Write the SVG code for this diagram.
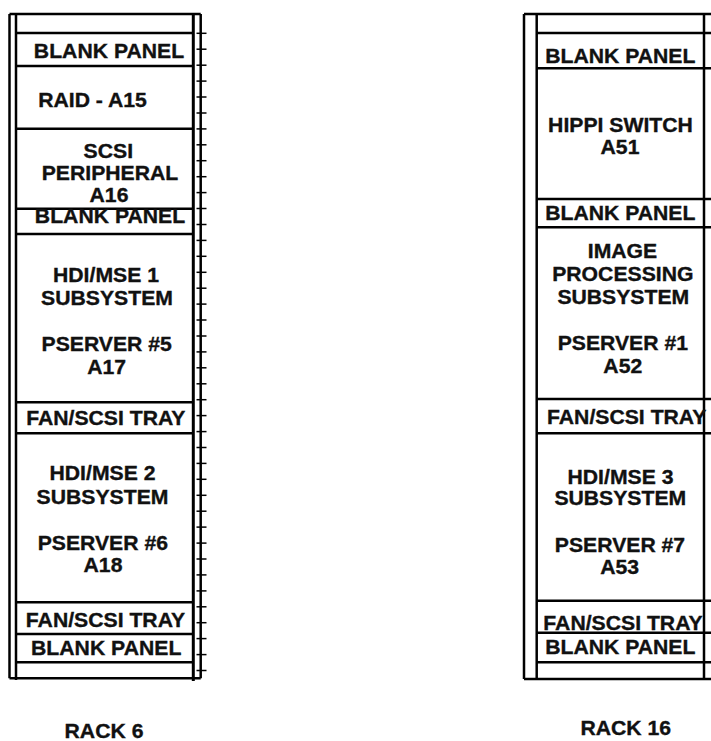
<svg xmlns="http://www.w3.org/2000/svg" width="711" height="741" viewBox="0 0 711 741">
<style>
  .frame{fill:none;stroke:#000;stroke-width:2.5}
  .rail{stroke:#000;stroke-width:3}
  .div{stroke:#000;stroke-width:2.5}
  .tick{stroke:#000;stroke-width:1.5}
  text{font-family:"Liberation Sans",Arial,sans-serif;font-weight:bold;font-size:20px;fill:#111;stroke:#111;stroke-width:0.35;text-anchor:middle}
</style>
<rect width="711" height="741" fill="#fff"/>
<g id="rack6-frame">
  <line class="frame" x1="9.5" y1="14" x2="200.7" y2="14"/>
  <line class="frame" x1="9.5" y1="678.3" x2="200.7" y2="678.3"/>
  <line class="frame" x1="9.5" y1="14" x2="9.5" y2="678.3"/>
  <line class="frame" x1="16" y1="14" x2="16" y2="680"/>
  <line class="rail" x1="193.3" y1="14" x2="193.3" y2="681"/>
  <line class="frame" x1="200.7" y1="14" x2="200.7" y2="678.3"/>
</g>
<g id="rack6-ticks">
  <line class="tick" x1="196.5" y1="33.3" x2="206.5" y2="33.3"/><line class="tick" x1="196.5" y1="49.2" x2="206.5" y2="49.2"/><line class="tick" x1="196.5" y1="65.2" x2="206.5" y2="65.2"/><line class="tick" x1="196.5" y1="81.1" x2="206.5" y2="81.1"/><line class="tick" x1="196.5" y1="97.0" x2="206.5" y2="97.0"/><line class="tick" x1="196.5" y1="113.0" x2="206.5" y2="113.0"/><line class="tick" x1="196.5" y1="128.9" x2="206.5" y2="128.9"/><line class="tick" x1="196.5" y1="144.8" x2="206.5" y2="144.8"/><line class="tick" x1="196.5" y1="160.7" x2="206.5" y2="160.7"/><line class="tick" x1="196.5" y1="176.7" x2="206.5" y2="176.7"/><line class="tick" x1="196.5" y1="192.6" x2="206.5" y2="192.6"/><line class="tick" x1="196.5" y1="208.5" x2="206.5" y2="208.5"/><line class="tick" x1="196.5" y1="224.5" x2="206.5" y2="224.5"/><line class="tick" x1="196.5" y1="240.4" x2="206.5" y2="240.4"/><line class="tick" x1="196.5" y1="256.3" x2="206.5" y2="256.3"/><line class="tick" x1="196.5" y1="272.3" x2="206.5" y2="272.3"/><line class="tick" x1="196.5" y1="288.2" x2="206.5" y2="288.2"/><line class="tick" x1="196.5" y1="304.1" x2="206.5" y2="304.1"/><line class="tick" x1="196.5" y1="320.0" x2="206.5" y2="320.0"/><line class="tick" x1="196.5" y1="336.0" x2="206.5" y2="336.0"/><line class="tick" x1="196.5" y1="351.9" x2="206.5" y2="351.9"/><line class="tick" x1="196.5" y1="367.8" x2="206.5" y2="367.8"/><line class="tick" x1="196.5" y1="383.8" x2="206.5" y2="383.8"/><line class="tick" x1="196.5" y1="399.7" x2="206.5" y2="399.7"/><line class="tick" x1="196.5" y1="415.6" x2="206.5" y2="415.6"/><line class="tick" x1="196.5" y1="431.6" x2="206.5" y2="431.6"/><line class="tick" x1="196.5" y1="447.5" x2="206.5" y2="447.5"/><line class="tick" x1="196.5" y1="463.4" x2="206.5" y2="463.4"/><line class="tick" x1="196.5" y1="479.3" x2="206.5" y2="479.3"/><line class="tick" x1="196.5" y1="495.3" x2="206.5" y2="495.3"/><line class="tick" x1="196.5" y1="511.2" x2="206.5" y2="511.2"/><line class="tick" x1="196.5" y1="527.1" x2="206.5" y2="527.1"/><line class="tick" x1="196.5" y1="543.1" x2="206.5" y2="543.1"/><line class="tick" x1="196.5" y1="559.0" x2="206.5" y2="559.0"/><line class="tick" x1="196.5" y1="574.9" x2="206.5" y2="574.9"/><line class="tick" x1="196.5" y1="590.9" x2="206.5" y2="590.9"/><line class="tick" x1="196.5" y1="606.8" x2="206.5" y2="606.8"/><line class="tick" x1="196.5" y1="622.7" x2="206.5" y2="622.7"/><line class="tick" x1="196.5" y1="638.6" x2="206.5" y2="638.6"/><line class="tick" x1="196.5" y1="654.6" x2="206.5" y2="654.6"/><line class="tick" x1="196.5" y1="670.5" x2="206.5" y2="670.5"/>
</g>
<g id="rack6-dividers">
  <line class="div" x1="16" y1="33" x2="193" y2="33"/>
  <line class="div" x1="16" y1="66" x2="193" y2="66"/>
  <line class="div" x1="16" y1="128.7" x2="193" y2="128.7"/>
  <line class="div" x1="16" y1="208.7" x2="193" y2="208.7"/>
  <line class="div" x1="16" y1="234" x2="193" y2="234"/>
  <line class="div" x1="16" y1="402.3" x2="193" y2="402.3"/>
  <line class="div" x1="16" y1="433.3" x2="193" y2="433.3"/>
  <line class="div" x1="16" y1="602.3" x2="193" y2="602.3"/>
  <line class="div" x1="16" y1="634" x2="193" y2="634"/>
  <line class="div" x1="16" y1="662.3" x2="193" y2="662.3"/>
</g>
<g id="r6-blank1"><text transform="translate(109,57.5) scale(1.06,1)">BLANK PANEL</text></g>
<g id="r6-raid"><text transform="translate(92.5,106.5) scale(1.06,1)">RAID - A15</text></g>
<g id="r6-scsi">
  <text transform="translate(108.3,157.5) scale(1.06,1)">SCSI</text>
  <text transform="translate(110,180.2) scale(1.06,1)">PERIPHERAL</text>
  <text transform="translate(109,202) scale(1.06,1)">A16</text>
</g>
<g id="r6-blank2"><text transform="translate(110,223) scale(1.06,1)">BLANK PANEL</text></g>
<g id="r6-hdi1">
  <text transform="translate(106,282) scale(1.06,1)">HDI/MSE 1</text>
  <text transform="translate(107,304.5) scale(1.06,1)">SUBSYSTEM</text>
  <text transform="translate(106.7,350.5) scale(1.06,1)">PSERVER #5</text>
  <text transform="translate(106.7,373.5) scale(1.06,1)">A17</text>
</g>
<g id="r6-fan1"><text transform="translate(105.8,425.3) scale(1.06,1)">FAN/SCSI TRAY</text></g>
<g id="r6-hdi2">
  <text transform="translate(102.5,479.5) scale(1.06,1)">HDI/MSE 2</text>
  <text transform="translate(102.5,503.5) scale(1.06,1)">SUBSYSTEM</text>
  <text transform="translate(102.8,549.5) scale(1.06,1)">PSERVER #6</text>
  <text transform="translate(103,572) scale(1.06,1)">A18</text>
</g>
<g id="r6-fan2"><text transform="translate(105.5,627) scale(1.06,1)">FAN/SCSI TRAY</text></g>
<g id="r6-blank3"><text transform="translate(106.2,655.3) scale(1.06,1)">BLANK PANEL</text></g>
<g id="rack6-label"><text transform="translate(104,738) scale(1.06,1)">RACK 6</text></g>

<g id="rack16-frame">
  <line class="frame" x1="524" y1="14" x2="712" y2="14"/>
  <line class="frame" x1="524" y1="679" x2="712" y2="679"/>
  <line class="frame" x1="524" y1="14" x2="524" y2="679"/>
  <line class="frame" x1="536.7" y1="14" x2="536.7" y2="679"/>
  <line class="frame" x1="704" y1="14" x2="704" y2="679"/>
</g>
<g id="rack16-dividers">
  <line class="div" x1="536.7" y1="33" x2="712" y2="33"/>
  <line class="div" x1="536.7" y1="68.3" x2="712" y2="68.3"/>
  <line class="div" x1="536.7" y1="199" x2="712" y2="199"/>
  <line class="div" x1="536.7" y1="227.3" x2="712" y2="227.3"/>
  <line class="div" x1="536.7" y1="399" x2="712" y2="399"/>
  <line class="div" x1="536.7" y1="433.3" x2="712" y2="433.3"/>
  <line class="div" x1="536.7" y1="600.7" x2="712" y2="600.7"/>
  <line class="div" x1="536.7" y1="632.7" x2="712" y2="632.7"/>
  <line class="div" x1="536.7" y1="662.3" x2="712" y2="662.3"/>
</g>
<g id="r16-blank1"><text transform="translate(620.3,63) scale(1.06,1)">BLANK PANEL</text></g>
<g id="r16-hippi">
  <text transform="translate(620.5,132) scale(1.06,1)">HIPPI SWITCH</text>
  <text transform="translate(620,153.5) scale(1.06,1)">A51</text>
</g>
<g id="r16-blank2"><text transform="translate(620.3,220.3) scale(1.06,1)">BLANK PANEL</text></g>
<g id="r16-image">
  <text transform="translate(622.5,257.5) scale(1.06,1)">IMAGE</text>
  <text transform="translate(622.8,281) scale(1.06,1)">PROCESSING</text>
  <text transform="translate(623.3,303.5) scale(1.06,1)">SUBSYSTEM</text>
  <text transform="translate(622.8,349.5) scale(1.06,1)">PSERVER #1</text>
  <text transform="translate(622.8,373) scale(1.06,1)">A52</text>
</g>
<g id="r16-fan1"><text transform="translate(626.7,423.5) scale(1.06,1)">FAN/SCSI TRAY</text></g>
<g id="r16-hdi3">
  <text transform="translate(620.5,483.5) scale(1.06,1)">HDI/MSE 3</text>
  <text transform="translate(620.3,505.3) scale(1.06,1)">SUBSYSTEM</text>
  <text transform="translate(620,552) scale(1.06,1)">PSERVER #7</text>
  <text transform="translate(619.7,574.3) scale(1.06,1)">A53</text>
</g>
<g id="r16-fan2"><text transform="translate(623,630.3) scale(1.06,1)">FAN/SCSI TRAY</text></g>
<g id="r16-blank3"><text transform="translate(620.3,654.3) scale(1.06,1)">BLANK PANEL</text></g>
<g id="rack16-label"><text transform="translate(625.8,734.5) scale(1.06,1)">RACK 16</text></g>
<g id="connectors"></g>
</svg>
